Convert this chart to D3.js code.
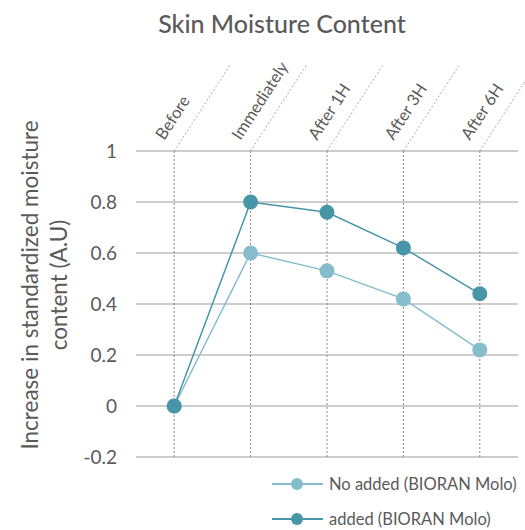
<!DOCTYPE html>
<html>
<head>
<meta charset="utf-8">
<script src="https://cdn.jsdelivr.net/npm/d3@7"></script>
<style>
  html, body { margin: 0; padding: 0; background: #fff; }
  svg { display: block; }
  text { font-family: "Source Sans Pro", Lato, "Noto Sans", sans-serif; fill: #5a5a5a; }
</style>
</head>
<body>
<svg id="chart" width="525" height="530"></svg>
<script>
const categories = ["Before", "Immediately", "After 1H", "After 3H", "After 6H"];
const seriesNames = ["No added (BIORAN Molo)", "added (BIORAN Molo)"];
const noAdded = [0, 0.6, 0.53, 0.42, 0.22];
const added = [0, 0.8, 0.76, 0.62, 0.44];
const yTicks = [-0.2, 0, 0.2, 0.4, 0.6, 0.8, 1];
const colors = ["#86bdcc", "#4796a8"];

const svg = d3.select("#chart");
const margin = { left: 136, right: 7, top: 151, bottom: 73 };
const W = 525, H = 530;

const x = d3.scalePoint().domain(categories).range([margin.left, W - margin.right]).padding(0.5);
const y = d3.scaleLinear().domain([-0.2, 1]).range([H - margin.bottom, margin.top]);

// title
svg.append("text")
  .attr("x", 282).attr("y", 33)
  .attr("text-anchor", "middle")
  .style("font-size", "25px").style("font-weight", 500)
  .text("Skin Moisture Content");

// horizontal grid
svg.append("g").selectAll("line").data(yTicks).join("line")
  .attr("x1", margin.left).attr("x2", W - margin.right)
  .attr("y1", d => y(d)).attr("y2", d => y(d))
  .attr("stroke", "#bdbdbd").attr("stroke-width", 1.5);

// y tick labels
svg.append("g").selectAll("text").data(yTicks).join("text")
  .attr("x", 117).attr("y", d => y(d))
  .attr("dy", "0.35em")
  .attr("text-anchor", "end")
  .style("font-size", "19px")
  .text(d => String(d));

// vertical dotted lines + diagonal extensions
const ang = 57 * Math.PI / 180;
const diagLen = 104;
const vg = svg.append("g");
vg.selectAll("line.v").data(categories).join("line").attr("class", "v")
  .attr("x1", d => x(d)).attr("x2", d => x(d))
  .attr("y1", y(1)).attr("y2", y(-0.2))
  .attr("stroke", "#888").attr("stroke-width", 1).attr("stroke-dasharray", "2,2");
vg.selectAll("line.d").data(categories).join("line").attr("class", "d")
  .attr("x1", d => x(d)).attr("y1", y(1))
  .attr("x2", d => x(d) + diagLen * Math.cos(ang)).attr("y2", y(1) - diagLen * Math.sin(ang))
  .attr("stroke", "#aaa").attr("stroke-width", 1).attr("stroke-dasharray", "2,2");

// category labels
svg.append("g").selectAll("text").data(categories).join("text")
  .attr("transform", d => `translate(${x(d) - 10},${y(1) - 10}) rotate(-57)`)
  .attr("text-anchor", "start")
  .style("font-size", "16.5px").style("font-weight", 400)
  .text(d => d);

// y axis title
const yt = svg.append("text")
  .attr("transform", `translate(0,285) rotate(-90)`)
  .attr("text-anchor", "middle")
  .style("font-size", "22.5px");
yt.append("tspan").attr("x", 0).attr("y", 38).text("Increase in standardized moisture");
yt.append("tspan").attr("x", 0).attr("y", 67).text("content (A.U)");

// series
const series = [noAdded, added];
const line = d3.line().x((d, i) => x(categories[i])).y(d => y(d));
series.forEach((vals, si) => {
  const g = svg.append("g");
  g.append("path").datum(vals)
    .attr("d", line).attr("fill", "none")
    .attr("stroke", colors[si]).attr("stroke-width", 1.5);
  g.selectAll("circle").data(vals).join("circle")
    .attr("cx", (d, i) => x(categories[i])).attr("cy", d => y(d))
    .attr("r", 7.5).attr("fill", colors[si]);
});

// legend
const lg = svg.append("g");
seriesNames.forEach((name, i) => {
  const ly = 484 + i * 35;
  lg.append("line").attr("x1", 272).attr("x2", 323).attr("y1", ly).attr("y2", ly)
    .attr("stroke", colors[i]).attr("stroke-width", 2);
  lg.append("circle").attr("cx", 297).attr("cy", ly).attr("r", 6).attr("fill", colors[i]);
  lg.append("text").attr("x", 329).attr("y", ly).attr("dy", "0.35em")
    .style("font-size", "16.5px").text(name);
});
</script>
</body>
</html>
